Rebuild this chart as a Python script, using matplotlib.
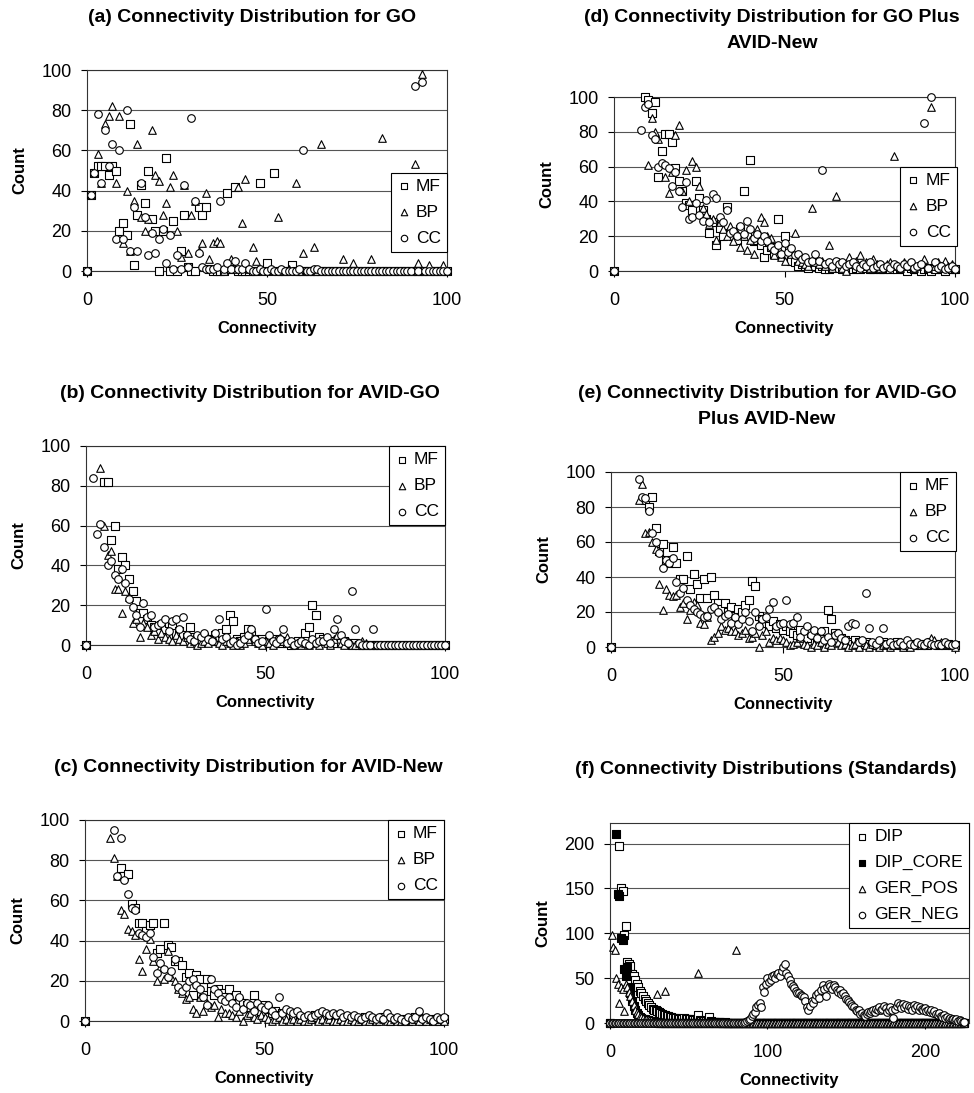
import numpy as np
import matplotlib
matplotlib.use("Agg")
import matplotlib.pyplot as plt

plt.rcParams["font.family"] = ["Liberation Sans", "DejaVu Sans"]

# connectivity values (one count per integer connectivity)
conn = np.arange(0, 101)
conn_f = np.arange(0, 226)

# (a) GO
a_mf = [0, 38, 49, 52, 52, 52, 48, 52, 50, 20,
        24, 18, 73, 3, 28, 43, 34, 50, 26, 20,
        0, 20, 56, 0, 25, 0, 10, 28, 2, 0,
        0, 32, 28, 32, 1, 0, 0, 0, 0, 39,
        1, 42, 0, 0, 0, 0, 0, 0, 44, 0,
        4, 0, 49, 0, 0, 0, 0, 3, 0, 0,
        0, 0, 0, 0, 0, 0, 0, 0, 0, 0,
        0, 0, 0, 0, 0, 0, 0, 0, 0, 0,
        0, 0, 0, 0, 0, 0, 0, 0, 0, 0,
        0, 0, 0, 0, 0, 0, 0, 0, 0, 0,
        0]
a_bp = [0, 38, 49, 58, 44, 73, 77, 82, 44, 77,
        14, 40, 10, 35, 63, 27, 20, 26, 70, 48,
        45, 28, 34, 42, 48, 20, 7, 43, 9, 28,
        35, 10, 14, 39, 6, 14, 15, 14, 0, 2,
        6, 1, 42, 24, 46, 1, 12, 5, 1, 0,
        0, 1, 0, 27, 0, 0, 1, 0, 44, 0,
        9, 0, 0, 12, 0, 63, 0, 0, 0, 0,
        0, 6, 0, 0, 4, 0, 0, 0, 0, 6,
        0, 0, 66, 0, 0, 0, 0, 0, 0, 0,
        0, 53, 4, 98, 0, 3, 0, 0, 0, 3,
        0]
a_cc = [0, 38, 49, 78, 44, 70, 52, 63, 16, 60,
        16, 80, 10, 32, 10, 44, 27, 8, 19, 9,
        16, 21, 4, 18, 1, 8, 1, 43, 2, 76,
        35, 9, 2, 1, 1, 1, 2, 35, 1, 4,
        1, 5, 1, 1, 4, 1, 0, 0, 1, 0,
        0, 1, 0, 0, 1, 0, 0, 0, 0, 1,
        60, 0, 0, 1, 1, 0, 0, 0, 0, 0,
        0, 0, 0, 0, 0, 0, 0, 0, 0, 0,
        0, 0, 0, 0, 0, 0, 0, 0, 0, 0,
        0, 92, 0, 94, 0, 0, 0, 0, 0, 0,
        0]

# (b) AVID-GO
b_mf = [0, 300, 220, 160, 115, 82, 82, 53, 60, 38,
        44, 40, 33, 27, 22, 16, 16, 13, 10, 9,
        7, 10, 8, 11, 9, 6, 7, 5, 4, 9,
        4, 3, 2, 4, 3, 2, 5, 4, 6, 8,
        15, 12, 3, 2, 4, 8, 5, 3, 2, 3,
        1, 2, 2, 3, 1, 2, 1, 0, 1, 2,
        1, 6, 9, 20, 15, 4, 3, 2, 1, 2,
        1, 1, 2, 1, 0, 1, 0, 0, 0, 0,
        0, 0, 0, 0, 0, 0, 0, 0, 0, 0,
        0, 0, 0, 0, 0, 0, 0, 0, 0, 0,
        0]
b_bp = [0, 280, 190, 120, 89, 60, 45, 47, 28, 28,
        16, 27, 24, 11, 13, 4, 11, 9, 5, 7,
        3, 6, 4, 3, 2, 5, 3, 2, 4, 1,
        2, 0, 1, 2, 1, 3, 2, 1, 0, 2,
        1, 0, 2, 0, 1, 3, 5, 2, 1, 0,
        2, 1, 0, 3, 4, 2, 4, 1, 0, 1,
        0, 1, 0, 2, 1, 0, 2, 1, 0, 3,
        5, 1, 0, 2, 0, 0, 1, 2, 1, 0,
        0, 0, 0, 0, 0, 0, 0, 0, 0, 0,
        0, 0, 0, 0, 0, 0, 0, 0, 0, 0,
        0]
b_cc = [0, 250, 84, 56, 61, 49, 40, 42, 35, 33,
        38, 31, 23, 19, 15, 9, 21, 14, 15, 9,
        10, 11, 13, 7, 12, 13, 8, 14, 5, 3,
        2, 5, 4, 6, 3, 2, 6, 13, 3, 4,
        1, 2, 0, 1, 3, 5, 8, 3, 1, 2,
        18, 5, 2, 1, 3, 8, 1, 2, 0, 1,
        2, 1, 0, 3, 1, 2, 2, 4, 1, 8,
        13, 5, 2, 1, 27, 8, 1, 0, 0, 0,
        8, 0, 0, 0, 0, 0, 0, 0, 0, 0,
        0, 0, 0, 0, 0, 0, 0, 0, 0, 0,
        0]

# (c) AVID-New
c_mf = [0, 500, 380, 280, 210, 170, 140, 118, 104, 101,
        76, 72, 73, 58, 56, 49, 49, 45, 48, 49,
        34, 36, 49, 38, 37, 30, 30, 28, 22, 24,
        13, 23, 21, 17, 21, 15, 13, 16, 14, 12,
        16, 11, 13, 10, 9, 8, 7, 13, 6, 5,
        8, 6, 4, 5, 3, 4, 2, 3, 2, 1,
        2, 1, 2, 1, 3, 2, 1, 2, 1, 2,
        1, 2, 1, 1, 2, 1, 0, 1, 2, 1,
        1, 0, 1, 2, 1, 0, 1, 1, 0, 1,
        0, 1, 2, 1, 0, 1, 1, 0, 1, 0,
        1]
c_bp = [0, 480, 360, 260, 200, 160, 120, 91, 81, 72,
        55, 53, 46, 45, 43, 31, 25, 36, 41, 30,
        20, 27, 21, 35, 22, 20, 16, 14, 11, 12,
        6, 4, 12, 5, 9, 7, 8, 2, 6, 4,
        4, 3, 2, 5, 0, 3, 4, 2, 1, 3,
        2, 1, 0, 1, 2, 0, 1, 0, 1, 0,
        1, 0, 0, 1, 2, 0, 1, 0, 1, 0,
        0, 1, 0, 0, 1, 0, 0, 1, 0, 0,
        1, 0, 0, 1, 0, 0, 1, 0, 0, 0,
        1, 0, 1, 0, 2, 0, 1, 0, 0, 1,
        0]
c_cc = [0, 470, 350, 250, 190, 150, 125, 108, 95, 72,
        91, 70, 63, 56, 55, 44, 43, 42, 44, 32,
        24, 29, 26, 22, 25, 31, 17, 15, 17, 20,
        21, 18, 16, 12, 8, 21, 16, 14, 11, 10,
        12, 9, 7, 12, 6, 9, 8, 5, 9, 7,
        6, 8, 5, 3, 12, 4, 6, 5, 4, 5,
        3, 2, 3, 2, 3, 4, 5, 4, 3, 4,
        3, 4, 2, 3, 2, 3, 2, 1, 2, 3,
        2, 1, 2, 1, 4, 2, 1, 2, 1, 0,
        2, 1, 2, 5, 1, 2, 1, 0, 2, 1,
        2]

# (d) GO plus AVID-New
d_mf = [0, 460, 330, 260, 210, 170, 140, 125, 112, 100,
        98, 91, 97, 54, 69, 79, 79, 74, 59, 52,
        46, 39, 38, 35, 52, 42, 35, 30, 22, 28,
        15, 25, 20, 37, 22, 20, 18, 24, 46, 20,
        64, 17, 18, 15, 8, 12, 14, 10, 30, 12,
        20, 8, 6, 5, 3, 4, 3, 2, 5, 3,
        2, 3, 1, 1, 2, 3, 2, 1, 3, 2,
        1, 2, 1, 3, 2, 1, 1, 2, 1, 1,
        2, 1, 3, 1, 2, 1, 0, 2, 1, 1,
        0, 1, 2, 0, 1, 3, 1, 0, 2, 1,
        1]
d_bp = [0, 450, 320, 240, 190, 160, 135, 118, 105, 104,
        61, 88, 80, 76, 62, 54, 45, 57, 78, 84,
        46, 58, 40, 63, 60, 49, 36, 33, 27, 30,
        18, 28, 24, 20, 26, 17, 22, 14, 20, 12,
        18, 10, 24, 31, 28, 20, 19, 9, 14, 8,
        6, 12, 10, 22, 6, 5, 4, 3, 36, 5,
        4, 6, 3, 15, 2, 43, 5, 2, 0, 8,
        4, 6, 9, 3, 5, 2, 7, 4, 2, 3,
        4, 5, 66, 3, 2, 5, 3, 4, 2, 3,
        4, 7, 2, 94, 3, 5, 2, 6, 3, 4,
        2]
d_cc = [0, 440, 310, 230, 180, 150, 130, 115, 81, 94,
        96, 78, 76, 60, 62, 61, 59, 49, 57, 46,
        37, 51, 30, 31, 39, 32, 29, 41, 28, 44,
        42, 31, 28, 35, 22, 23, 20, 26, 21, 29,
        24, 19, 21, 17, 20, 17, 14, 12, 15, 10,
        16, 11, 13, 9, 10, 7, 8, 5, 6, 10,
        6, 58, 4, 5, 3, 6, 4, 5, 3, 4,
        5, 3, 2, 4, 3, 5, 2, 3, 4, 2,
        3, 2, 4, 3, 2, 4, 3, 5, 2, 3,
        4, 85, 2, 100, 5, 2, 3, 1, 2, 3,
        1]

# (e) AVID-GO plus AVID-New
e_mf = [0, 400, 300, 230, 180, 150, 125, 110, 102, 101,
        84, 80, 86, 68, 55, 59, 50, 48, 57, 48,
        39, 39, 52, 33, 42, 36, 28, 39, 28, 40,
        30, 25, 22, 25, 20, 23, 18, 22, 20, 24,
        27, 38, 35, 18, 16, 14, 12, 15, 11, 13,
        10, 12, 9, 8, 7, 10, 6, 5, 8, 7,
        4, 6, 9, 21, 16, 8, 6, 5, 4, 3,
        2, 4, 3, 2, 3, 2, 1, 2, 1, 3,
        2, 1, 2, 3, 1, 2, 1, 2, 1, 2,
        1, 2, 1, 3, 2, 1, 2, 1, 2, 1,
        1]
e_bp = [0, 380, 280, 210, 160, 130, 112, 104, 84, 93,
        65, 66, 60, 56, 36, 21, 33, 30, 29, 30,
        23, 25, 16, 21, 26, 24, 14, 13, 17, 4,
        6, 8, 12, 10, 11, 9, 9, 7, 8, 10,
        5, 6, 8, 0, 7, 9, 3, 5, 4, 5,
        4, 3, 1, 2, 3, 5, 2, 1, 0, 2,
        1, 3, 0, 2, 1, 4, 3, 1, 2, 0,
        1, 2, 0, 3, 1, 0, 2, 1, 0, 1,
        2, 0, 1, 1, 2, 0, 1, 0, 2, 1,
        1, 2, 3, 5, 4, 2, 3, 1, 2, 1,
        0]
e_cc = [0, 390, 290, 220, 170, 140, 120, 106, 96, 86,
        85, 78, 65, 60, 54, 45, 50, 48, 51, 37,
        31, 34, 27, 24, 22, 20, 19, 17, 18, 22,
        23, 20, 16, 18, 19, 14, 17, 13, 16, 20,
        15, 9, 20, 12, 16, 17, 22, 26, 12, 13,
        14, 27, 13, 14, 17, 6, 9, 12, 7, 10,
        5, 9, 4, 6, 3, 7, 8, 5, 4, 12,
        14, 13, 3, 4, 31, 11, 3, 2, 4, 11,
        2, 3, 1, 2, 3, 1, 4, 2, 1, 3,
        2, 1, 3, 2, 1, 2, 1, 3, 2, 1,
        2]

# (f) standards, connectivity 0..225
f_dip = [0, 480, 390, 320, 270, 240, 197, 150, 147, 98, 108, 68, 66, 63, 55, 52, 48, 44, 40, 36,
         34, 30, 27, 24, 22, 20, 18, 16, 15, 14, 13, 12, 11, 10, 9, 9, 8, 8, 7, 7,
         6, 6, 6, 5, 5, 5, 5, 6, 4, 4, 4, 4, 3, 3, 3, 3, 9, 3, 2, 2,
         2, 2, 2, 7, 2, 1, 1, 1, 1, 1, 1, 0, 0, 1, 0, 0, 0, 0, 0, 0,
         0, 0, 0, 0, 0, 0, 0, 0, 0, 0, 0, 0, 0, 0, 0, 0, 0, 0, 0, 0,
         0, 0, 0, 0, 0, 0, 0, 0, 0, 0, 0, 0, 0, 0, 0, 0, 0, 0, 0, 0,
         0, 0, 0, 0, 0, 0, 0, 0, 0, 0, 0, 0, 0, 0, 0, 0, 0, 0, 0, 0,
         0, 0, 0, 0, 0, 0, 0, 0, 0, 0, 0, 0, 0, 0, 0, 0, 0, 0, 0, 0,
         0, 0, 0, 0, 0, 0, 0, 0, 0, 0, 0, 0, 0, 0, 0, 0, 0, 0, 0, 0,
         0, 0, 0, 0, 0, 0, 0, 0, 0, 0, 0, 0, 0, 0, 0, 0, 0, 0, 0, 0,
         0, 0, 0, 0, 0, 0, 0, 0, 0, 0, 0, 0, 0, 0, 0, 0, 0, 0, 0, 0,
         0, 0, 0, 0, 0, 0]
f_dip_core = [0, 400, 300, 240, 211, 144, 142, 95, 93, 60, 52, 62, 40, 33, 24, 19, 15, 11, 9, 7,
              6, 5, 4, 3, 3, 2, 2, 2, 1, 1, 1, 0, 0, 0, 0, 0, 0, 0, 0, 0,
              0, 0, 0, 0, 0, 0, 0, 0, 0, 0, 0, 0, 0, 0, 0, 0, 0, 0, 0, 0,
              0, 0, 0, 0, 0, 0, 0, 0, 0, 0, 0, 0, 0, 0, 0, 0, 0, 0, 0, 0,
              0, 0, 0, 0, 0, 0, 0, 0, 0, 0, 0, 0, 0, 0, 0, 0, 0, 0, 0, 0,
              0, 0, 0, 0, 0, 0, 0, 0, 0, 0, 0, 0, 0, 0, 0, 0, 0, 0, 0, 0,
              0, 0, 0, 0, 0, 0, 0, 0, 0, 0, 0, 0, 0, 0, 0, 0, 0, 0, 0, 0,
              0, 0, 0, 0, 0, 0, 0, 0, 0, 0, 0, 0, 0, 0, 0, 0, 0, 0, 0, 0,
              0, 0, 0, 0, 0, 0, 0, 0, 0, 0, 0, 0, 0, 0, 0, 0, 0, 0, 0, 0,
              0, 0, 0, 0, 0, 0, 0, 0, 0, 0, 0, 0, 0, 0, 0, 0, 0, 0, 0, 0,
              0, 0, 0, 0, 0, 0, 0, 0, 0, 0, 0, 0, 0, 0, 0, 0, 0, 0, 0, 0,
              0, 0, 0, 0, 0, 0]
f_ger_pos = [0, 98, 85, 81, 50, 44, 22, 40, 38, 13, 44, 40, 35, 30, 25, 20, 15, 12, 10, 8,
             7, 6, 5, 4, 4, 3, 3, 2, 2, 2, 32, 1, 1, 1, 1, 36, 1, 0, 0, 0,
             0, 0, 0, 0, 0, 0, 0, 0, 0, 0, 0, 0, 0, 0, 0, 0, 56, 0, 0, 0,
             0, 0, 0, 0, 0, 0, 0, 0, 0, 0, 0, 0, 0, 0, 0, 0, 0, 0, 0, 0,
             81, 0, 0, 0, 0, 0, 0, 0, 0, 0, 0, 0, 0, 0, 0, 0, 0, 0, 0, 0,
             0, 0, 0, 0, 0, 0, 0, 0, 0, 0, 0, 0, 0, 0, 0, 0, 0, 0, 0, 0,
             0, 0, 0, 0, 0, 0, 0, 0, 0, 0, 0, 0, 0, 0, 0, 0, 0, 0, 0, 0,
             0, 0, 0, 0, 0, 0, 0, 0, 0, 0, 0, 0, 0, 0, 0, 0, 0, 0, 0, 0,
             0, 0, 0, 0, 0, 0, 0, 0, 0, 0, 0, 0, 0, 0, 0, 0, 0, 0, 0, 0,
             0, 0, 0, 0, 0, 0, 0, 0, 0, 0, 0, 0, 0, 0, 0, 0, 0, 0, 0, 0,
             0, 0, 0, 0, 0, 0, 0, 0, 0, 0, 0, 0, 0, 0, 0, 0, 0, 0, 0, 0,
             0, 0, 0, 0, 0, 0]
f_ger_neg = [0, 0, 0, 0, 0, 0, 0, 0, 0, 0, 0, 0, 0, 0, 0, 0, 0, 0, 0, 0,
             0, 0, 0, 0, 0, 0, 0, 0, 0, 0, 0, 0, 0, 0, 0, 0, 0, 0, 0, 0,
             0, 0, 0, 0, 0, 0, 0, 0, 0, 0, 0, 0, 0, 0, 0, 0, 0, 0, 0, 0,
             0, 0, 0, 0, 0, 0, 0, 0, 0, 0, 0, 0, 0, 0, 0, 0, 0, 0, 0, 0,
             0, 0, 0, 0, 0, 0, 1, 2, 3, 5, 8, 10, 12, 18, 20, 22, 18, 40, 35, 44,
             50, 46, 48, 52, 54, 50, 55, 56, 52, 58, 62, 66, 56, 52, 48, 44, 41, 39, 36, 34,
             33, 31, 30, 29, 25, 18, 14, 19, 24, 22, 27, 31, 33, 28, 37, 42, 38, 30, 40, 43,
             41, 38, 42, 40, 37, 35, 37, 32, 34, 30, 27, 26, 23, 21, 19, 18, 15, 13, 14, 10,
             11, 9, 8, 10, 12, 11, 13, 14, 12, 16, 15, 18, 14, 16, 19, 17, 12, 15, 18, 14,
             6, 16, 19, 22, 20, 17, 21, 18, 20, 16, 19, 18, 14, 20, 17, 19, 15, 18, 16, 14,
             17, 13, 15, 12, 14, 11, 13, 10, 9, 11, 8, 7, 9, 6, 7, 5, 6, 4, 5, 3,
             4, 2, 3, 2, 1, 1]

go_labels = ["MF", "BP", "CC"]
std_labels = ["DIP", "DIP_CORE", "GER_POS", "GER_NEG"]

W, H = 974, 1093
fig = plt.figure(figsize=(W / 100, H / 100), dpi=100)


def add_axes(l, t, r, b):
    return fig.add_axes([l / W, 1 - b / H, (r - l) / W, (b - t) / H])


def draw_panel(ax, box, x, ys, styles, labels, xmax, ymax, xticks, yticks, leg_anchor):
    l, t, r, b = box
    x = np.asarray(x)
    for y, (mk, fc), lab in zip(ys, styles, labels):
        y = np.asarray(y)
        keep = y <= ymax   # Excel hides points above the axis maximum
        ax.scatter(x[keep], y[keep], s=30, marker=mk, facecolor=fc,
                   edgecolor="black", linewidth=0.8, clip_on=False,
                   label=lab, zorder=3)
    ax.set_xlim(0, xmax)
    ax.set_ylim(0, ymax)
    ax.set_xticks(xticks)
    ax.set_yticks(yticks)
    ax.yaxis.grid(True, color="#555555", linewidth=0.8)
    ax.set_axisbelow(True)
    for sp in ax.spines.values():
        sp.set_color("#333333")
        sp.set_linewidth(0.8)
    ax.tick_params(direction="out", length=4, width=0.8, labelsize=13,
                   colors="black")
    ax.tick_params(axis="y", pad=7)
    ax.tick_params(axis="x", pad=11)
    leg = ax.legend(loc="upper right", bbox_to_anchor=leg_anchor,
                    borderaxespad=0, frameon=True, fancybox=False,
                    edgecolor="black", framealpha=1, fontsize=12.5,
                    scatterpoints=1, handlelength=0.8, handletextpad=0.3,
                    labelspacing=0.62, borderpad=0.35, markerscale=0.85)
    leg.get_frame().set_linewidth(0.8)
    # axis labels
    fig.text((l + r) / 2 / W, 1 - (b + 58) / H, "Connectivity",
             ha="center", va="center", fontsize=12, fontweight="bold")
    fig.text((l - 67) / W, 1 - (t + b) / 2 / H, "Count", rotation=90,
             ha="center", va="center", fontsize=12, fontweight="bold")


go_styles = [("s", "white"), ("^", "white"), ("o", "white")]
std_styles = [("s", "white"), ("s", "black"), ("^", "white"), ("o", "white")]

panels = [
    ((87, 70, 447, 271), conn, [a_mf, a_bp, a_cc], (1.0, 0.49)),
    ((86, 446, 445, 645), conn, [b_mf, b_bp, b_cc], (1.0, 1.0)),
    ((85, 820, 444, 1021), conn, [c_mf, c_bp, c_cc], (1.0, 1.0)),
    ((614, 97, 955, 271), conn, [d_mf, d_bp, d_cc], (1.005, 0.60)),
    ((611, 472, 955, 647), conn, [e_mf, e_bp, e_cc], (1.003, 1.0)),
]
for box, x, ys, anchor in panels:
    ax = add_axes(*box)
    draw_panel(ax, box, x, ys, go_styles, go_labels, 100, 100,
               [0, 50, 100], [0, 20, 40, 60, 80, 100], anchor)

box_f = (610, 823, 969, 1023)
ax_f = add_axes(*box_f)
draw_panel(ax_f, box_f, conn_f, [f_dip, f_dip_core, f_ger_pos, f_ger_neg],
           std_styles, std_labels, 228, 223, [0, 100, 200],
           [0, 50, 100, 150, 200], (1.0, 1.0))

# titles
titles = [
    (252, 17, "(a) Connectivity Distribution for GO"),
    (250, 393, "(b) Connectivity Distribution for AVID-GO"),
    (248, 768, "(c) Connectivity Distribution for AVID-New"),
    (772, 17, "(d) Connectivity Distribution for GO Plus"),
    (772, 43, "AVID-New"),
    (767, 393, "(e) Connectivity Distribution for AVID-GO"),
    (767, 420, "Plus AVID-New"),
    (766, 770, "(f) Connectivity Distributions (Standards)"),
]
for cx, cy, txt in titles:
    fig.text(cx / W, 1 - cy / H, txt, ha="center", va="center",
             fontsize=14, fontweight="bold")

fig.savefig("out.png", dpi=100)
